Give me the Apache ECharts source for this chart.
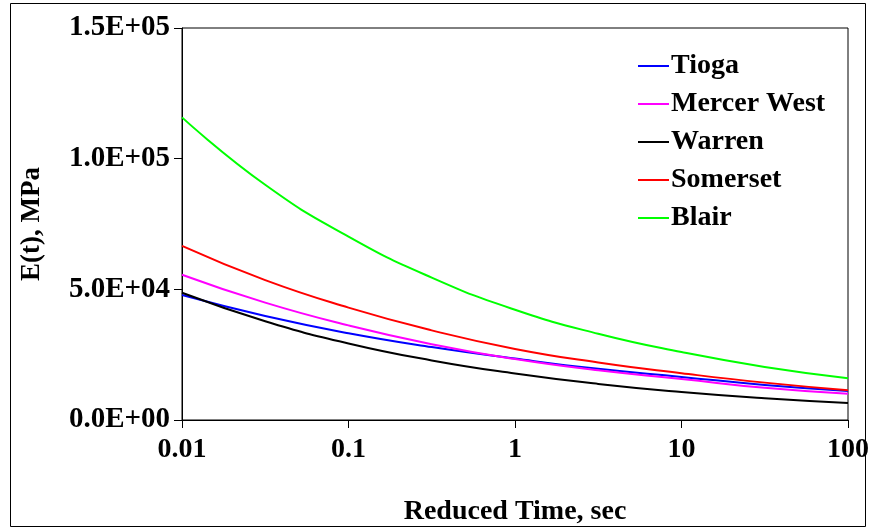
<!DOCTYPE html>
<html>
<head>
<meta charset="utf-8">
<script src="https://cdn.jsdelivr.net/npm/echarts@6/dist/echarts.min.js"></script>
<style>
  html, body { margin: 0; padding: 0; background: #fff; }
  #chart { width: 869px; height: 531px; }
</style>
</head>
<body>
<div id="chart"></div>
<script>
// reduced time, sec (log axis)
const TIMES = [0.01, 0.0316, 0.1, 0.316, 1, 3.16, 10, 31.6, 100];

// E(t), MPa
const TIOGA = [47800, 39800, 33200, 27900, 23500, 19600, 16500, 13400, 11100];
const MERCER_WEST = [55600, 44900, 36200, 29000, 23300, 19000, 15700, 12300, 10000];
const WARREN = [48700, 37800, 29300, 22800, 17800, 13800, 10700, 8300, 6500];
const SOMERSET = [66600, 53500, 43000, 34300, 27200, 22000, 17900, 14300, 11400];
const BLAIR = [115800, 90000, 70200, 54500, 42200, 33000, 26000, 20300, 16000];

const SERIES_NAMES = ['Tioga', 'Mercer West', 'Warren', 'Somerset', 'Blair'];
const SERIES_VALUES = [TIOGA, MERCER_WEST, WARREN, SOMERSET, BLAIR];
const COLORS = ['#0000FF', '#FF00FF', '#000000', '#FF0000', '#00FF00'];

const FONT = '"Liberation Serif", "Times New Roman", serif';

function sciLabel(v) {
    const s = Number(v).toExponential(1).split('e');
    const exp = parseInt(s[1], 10);
    const sign = exp < 0 ? '-' : '+';
    return s[0] + 'E' + sign + String(Math.abs(exp)).padStart(2, '0');
}

const chart = echarts.init(document.getElementById('chart'));

chart.setOption({
    animation: false,
    backgroundColor: '#fff',
    graphic: [{
        type: 'rect',
        shape: { x: 10.5, y: 3.5, width: 855, height: 523 },
        style: { fill: 'none', stroke: '#000', lineWidth: 1 }
    }],
    grid: {
        left: 182, right: 21, top: 28, bottom: 111,
        outerBoundsMode: 'none',
        containLabel: false,
        show: true, borderColor: '#000', borderWidth: 1
    },
    legend: {
        orient: 'vertical',
        left: 633, top: 47,
        icon: 'rect',
        itemWidth: 31, itemHeight: 2, itemGap: 10,
        textStyle: { fontFamily: FONT, fontWeight: 'bold', fontSize: 28, color: '#000', lineHeight: 27, padding: [0, 0, 0, -3] },
        data: SERIES_NAMES
    },
    xAxis: {
        type: 'log', logBase: 10, min: 0.01, max: 100,
        name: 'Reduced Time, sec', nameLocation: 'middle', nameGap: 78,
        nameTextStyle: { fontFamily: FONT, fontWeight: 'bold', fontSize: 28, color: '#000' },
        axisLine: { lineStyle: { color: '#000', width: 1 } },
        axisTick: { show: true, length: 8, lineStyle: { color: '#000' } },
        minorTick: { show: false },
        splitLine: { show: false },
        axisLabel: {
            margin: 16, fontFamily: FONT, fontWeight: 'bold', fontSize: 28, color: '#000',
            formatter: v => String(+v.toPrecision(3))
        }
    },
    yAxis: {
        type: 'value', min: 0, max: 150000, interval: 50000,
        name: 'E(t), MPa', nameLocation: 'middle', nameGap: 136, nameRotate: 90,
        nameTextStyle: { fontFamily: FONT, fontWeight: 'bold', fontSize: 27, color: '#000' },
        axisLine: { show: true, lineStyle: { color: '#000', width: 1 } },
        axisTick: { show: true, length: 8, lineStyle: { color: '#000' } },
        splitLine: { show: false },
        axisLabel: {
            margin: 12, fontFamily: FONT, fontWeight: 'bold', fontSize: 29, color: '#000',
            formatter: sciLabel
        }
    },
    series: SERIES_NAMES.map((name, i) => ({
        name: name,
        type: 'line',
        smooth: true,
        symbol: 'none',
        data: TIMES.map((t, j) => [t, SERIES_VALUES[i][j]]),
        lineStyle: { color: COLORS[i], width: 2 },
        itemStyle: { color: COLORS[i] }
    }))
});
</script>
</body>
</html>
